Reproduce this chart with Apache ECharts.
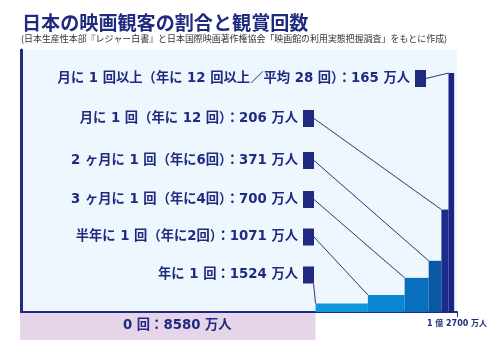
<!DOCTYPE html>
<html><head><meta charset="utf-8">
<script src="https://cdn.jsdelivr.net/npm/echarts@6/dist/echarts.min.js"></script>
<style>html,body{margin:0;padding:0;background:#fff}#c{width:500px;height:353px}</style>
</head><body><div id="c"></div>
<script>
const titleText = '日本の映画観客の割合と観賞回数';
const subText = '(日本生産性本部『レジャー白書』と日本国際映画著作権協会「映画館の利用実態把握調査」をもとに作成)';
const categories = ['年に 1 回', '半年に 1 回（年に2回）', '3 ヶ月に 1 回（年に4回）', '2 ヶ月に 1 回（年に6回）', '月に 1 回（年に 12 回）', '月に 1 回以上（年に 12 回以上／平均 28 回）'];
const people = [1524, 1071, 700, 371, 206, 165];        // 万人
const timesPerYear = [1, 2, 4, 6, 12, 28];
const zeroLabel = '0 回';
const zeroPeople = 8580;                                  // 万人
const totalPeople = 12700;                                // 万人
const totalLabel = '1 億 2700 万人';
const barColors = ['#1096DC', '#0A86D2', '#0A6EBE', '#0B58A6', '#1C2B8C', '#1E2282'];

const NAVY = '#1F2A80';
const FONT = '"Noto Sans CJK JP", "Noto Sans", sans-serif';
const LFONT = '"DejaVu Sans", "Noto Sans CJK JP", sans-serif';

let cum = zeroPeople;
const rows = people.map((p, i) => {
  const r = [cum, cum + p, timesPerYear[i], i];
  cum += p;
  return r;
});

const labelY = [275, 237, 199.5, 160.5, 118.5, 78.5];

const chart = echarts.init(document.getElementById('c'), null, {renderer: 'canvas'});
chart.setOption({
  animation: false,
  backgroundColor: '#ffffff',
  title: [
    {text: titleText, left: 22, top: 13, padding: 0, textStyle: {fontFamily: FONT, fontSize: 19.1, fontWeight: 'bold', color: NAVY}},
    {text: subText, left: 21, top: 34, padding: 0, textStyle: {fontFamily: FONT, fontSize: 8.95, fontWeight: 'normal', color: '#333'}}
  ],
  grid: {left: 21, right: 43, top: 50, bottom: 41, show: true, backgroundColor: '#EEF6FE', borderWidth: 0},
  xAxis: {
    type: 'value', min: 0, max: totalPeople, splitLine: {show: false},
    axisLine: {show: true, lineStyle: {color: NAVY, width: 2}},
    axisTick: {show: true, customValues: [totalPeople], length: 5, lineStyle: {color: NAVY, width: 1}},
    axisLabel: {show: true, customValues: [totalPeople], formatter: () => totalLabel, margin: 8,
      fontFamily: LFONT, fontSize: 8, fontWeight: 'bold', color: NAVY}
  },
  yAxis: {
    type: 'value', min: 0, max: 30.7, splitLine: {show: false},
    axisLine: {show: true, lineStyle: {color: NAVY, width: 3}},
    axisTick: {show: false}, axisLabel: {show: false}
  },
  series: [
    {
      type: 'custom', clip: false, z: 3,
      data: rows,
      encode: {x: [0, 1], y: 2},
      renderItem: function (params, api) {
        const start = api.value(0), end = api.value(1), f = api.value(2), i = api.value(3);
        const p0 = api.coord([start, 0]);
        const p1 = api.coord([end, f]);
        const barX = p0[0], barTop = p1[1];
        const cy = labelY[i];
        const sqW = 11, sqH = 17;
        const sqX = (i === 5) ? 415 : 303;
        const sqRight = sqX + sqW;
        const children = [];
        children.push({type: 'rect', shape: {x: barX, y: barTop, width: p1[0] - barX, height: p0[1] - barTop},
          style: {fill: barColors[i]}, z2: 1});
        const lineStart = (i === 0) ? [sqRight - 0.5, cy + sqH / 2] : [sqRight, cy];
        children.push({type: 'line', shape: {x1: lineStart[0], y1: lineStart[1], x2: barX, y2: barTop},
          style: {stroke: '#2B3670', lineWidth: 1}, z2: 2});
        children.push({type: 'rect', shape: {x: sqX, y: cy - sqH / 2, width: sqW, height: sqH},
          style: {fill: NAVY}, z2: 3});
        children.push({type: 'text', x: sqX - 5, y: cy,
          style: {text: categories[i] + '：' + people[i] + ' 万人', align: 'right', verticalAlign: 'middle',
            fontFamily: LFONT, fontSize: 13.3, fontWeight: 'bold', fill: NAVY}, z2: 4});
        return {type: 'group', children: children};
      }
    },
    {
      type: 'custom', clip: false, z: 2,
      data: [[0, zeroPeople]],
      encode: {x: [0, 1]},
      renderItem: function (params, api) {
        const a = api.coord([api.value(0), 0]);
        const b = api.coord([api.value(1), 0]);
        return {type: 'group', children: [
          {type: 'rect', shape: {x: a[0] - 1, y: a[1] + 1, width: b[0] - a[0] + 1, height: 27}, style: {fill: '#E6D4E8'}},
          {type: 'text', x: (a[0] + b[0]) / 2 + 9, y: a[1] + 14,
            style: {text: zeroLabel + '：' + zeroPeople + ' 万人', align: 'center', verticalAlign: 'middle',
              fontFamily: LFONT, fontSize: 13.3, fontWeight: 'bold', fill: NAVY}}
        ]};
      }
    }
  ]
});
</script></body></html>
